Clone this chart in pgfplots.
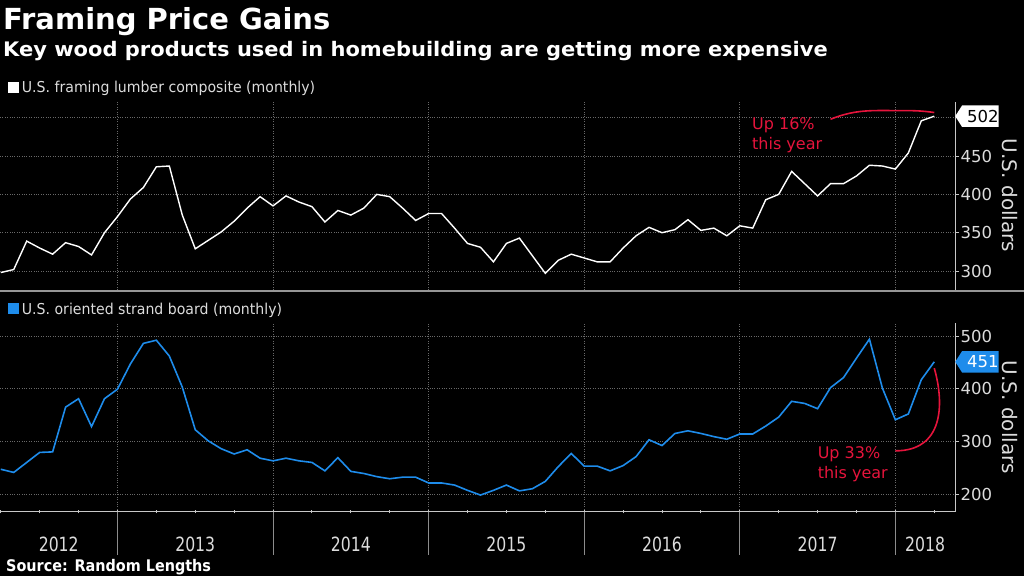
\documentclass[border=0pt]{standalone}
\usepackage{pgfplots}
\usepackage{pgfplotstable}
\pgfplotsset{compat=1.18}
\usepackage{fontspec}
\setmainfont{DejaVu Sans}
\newfontfamily\legfont[FakeStretch=0.94]{DejaVu Sans}
\newfontfamily\yearfont[FakeStretch=0.8]{DejaVu Sans}
\newfontfamily\srcfont[FakeStretch=0.9]{DejaVu Sans}
\newfontfamily\subfont[FakeStretch=1.05]{DejaVu Sans}
\usetikzlibrary{shapes.symbols}
\definecolor{bbblue}{RGB}{30,140,235}
\definecolor{bbred}{RGB}{230,20,60}
\definecolor{gridgray}{RGB}{105,105,105}
\definecolor{axgray}{RGB}{200,200,200}
\definecolor{lbl}{RGB}{220,220,220}

\pgfplotstableread{
m v
3 298
4 302
5 339
6 330
7 322
8 337
9 332
10 321
11 350
12 371
13 394
14 409
15 436
16 437
17 373
18 329
19 340
20 351
21 365
22 382
23 397
24 385
25 398
26 390
27 384
28 364
29 379
30 373
31 382
32 400
33 397
34 382
35 366
36 375
37 375
38 356
39 336
40 331
41 312
42 336
43 343
44 320
45 297
46 314
47 322
48 317
49 312
50 312
51 330
52 346
53 357
54 350
55 354
56 367
57 353
58 356
59 346
60 359
61 356
62 393
63 400
64 430
65 414
66 398
67 414
68 414
69 424
70 438
71 437
72 433
73 454
74 496
75 502
}\lumber

\pgfplotstableread{
m v
3 247
4 241
5 260
6 279
7 280
8 365
9 381
10 328
11 381
12 399
13 447
14 486
15 492
16 462
17 403
18 322
19 301
20 286
21 276
22 284
23 268
24 263
25 268
26 263
27 260
28 244
29 269
30 243
31 239
32 233
33 229
34 232
35 232
36 221
37 221
38 217
39 207
40 198
41 207
42 217
43 206
44 210
45 224
46 252
47 277
48 253
49 253
50 244
51 254
52 271
53 303
54 292
55 315
56 320
57 315
58 309
59 304
60 314
61 314
62 329
63 346
64 376
65 372
66 362
67 402
68 421
69 458
70 494
71 401
72 341
73 352
74 417
75 451
}\osb

\pgfplotsset{bb/.style={
  scale only axis, width=955pt,
  xmin=2.94, xmax=76.6,
  axis y line=right,
  y axis line style={draw=axgray, line width=1pt, -},
  tick align=outside,
  xtick={12,24,36,48,60,72},
  xmajorgrids, ymajorgrids,
  major grid style={draw=gridgray, dotted, line width=0.9pt},
  ytick style={draw=axgray, line width=0.9pt},
  major tick length=4pt,
  minor tick length=3.5pt,
  /pgf/number format/assume math mode=true,
  yticklabel style={font=\fontsize{16.5}{18}\selectfont, text=lbl, inner xsep=1.5pt},
  every axis y label/.style={at={(rel axis cs:1,0.5)}, xshift=55pt, anchor=center, rotate=-90, font=\fontsize{20}{22}\selectfont, text=lbl},
  ylabel={U.S. dollars},
  clip mode=individual,
}}

\begin{document}
\begin{tikzpicture}
\fill[black] (0pt,0pt) rectangle (1024pt,-576pt);

% titles
\node[anchor=base west, inner sep=0pt, text=white, font=\bfseries\fontsize{29}{31}\selectfont] at (3pt,-29.5pt) {Framing Price Gains};
\node[anchor=base west, inner sep=0pt, text=white, font=\subfont\bfseries\fontsize{20}{22}\selectfont] at (3pt,-56pt) {Key wood products used in homebuilding are getting more expensive};

% legends
\node[anchor=base west, inner sep=0pt, text=lbl, font=\legfont\fontsize{15}{17}\selectfont] at (7.3pt,-92.7pt) {\textcolor{white}{\rule{11pt}{11pt}}\hspace{3.4pt}U.S. framing lumber composite (monthly)};
\node[anchor=base west, inner sep=0pt, text=lbl, font=\legfont\fontsize{15}{17}\selectfont] at (7.3pt,-314.3pt) {\textcolor{bbblue}{\rule{11pt}{11pt}}\hspace{3.4pt}U.S. oriented strand board (monthly)};

% top panel
\begin{axis}[bb,
  at={(0pt,-101.7pt)}, anchor=north west,
  height=187.8pt,
  ymin=275.9, ymax=520.9,
  ytick={300,350,400,450,500},
  yticklabels={300,350,400,450,{}},
  axis x line=bottom,
  x axis line style={draw=none},
  xtick style={draw=none},
  xticklabels={},
]
\addplot[white, line width=1.4pt] table[x=m, y=v] {\lumber};
\draw[bbred, line width=1.6pt] (axis cs:67,498) to[out=22,in=180] (axis cs:72.3,509.3) to[out=0,in=172] (axis cs:75,506.8);
\node[anchor=base west, inner sep=0pt, text=bbred, font=\fontsize{16}{20}\selectfont, align=left] at (axis cs:60.94,458) {Up 16\%\\this year};
\node[signal, signal to=west, signal pointer angle=115, fill=white, text=black, inner sep=0pt, minimum height=21.6pt, minimum width=41.5pt, anchor=west, font=\fontsize{16.5}{18}\selectfont] at (axis cs:76.6,502) {\hspace{5pt}502};
\end{axis}

\draw[color={rgb,255:red,150;green,150;blue,150}, line width=2.2pt] (0pt,-291pt) -- (1024pt,-291pt);

% bottom panel
\begin{axis}[bb,
  at={(0pt,-323.3pt)}, anchor=north west,
  height=188.2pt,
  ymin=166.8, ymax=524.1,
  ytick={200,300,400,500},
  axis x line=bottom,
  x axis line style={draw=axgray, line width=1pt, -},
  xtick style={draw=axgray, line width=0.9pt},
  minor xtick={3,6,9,15,18,21,27,30,33,39,42,45,51,54,57,63,66,69,75},
  minor tick style={draw=axgray, line width=0.9pt},
  xticklabels={},
]
\addplot[bbblue, line width=1.6pt] table[x=m, y=v] {\osb};
\draw[bbred, line width=1.6pt] (axis cs:72,282) .. controls (axis cs:75.7,282) and (axis cs:75.8,370) .. (axis cs:75,439);
\node[anchor=base west, inner sep=0pt, text=bbred, font=\fontsize{16}{20}\selectfont, align=left] at (axis cs:66.0,230) {Up 33\%\\this year};
\node[signal, signal to=west, signal pointer angle=115, fill=bbblue, text=white, inner sep=0pt, minimum height=21.6pt, minimum width=41.5pt, anchor=west, font=\fontsize{16.5}{18}\selectfont] at (axis cs:76.6,451) {\hspace{5pt}451};
\pgfplotsinvokeforeach{12,24,36,48,60,72}{
  \draw[color={rgb,255:red,140;green,140;blue,140}, line width=0.9pt] (axis cs:#1,166.8) -- ++(0pt,-43.5pt);
}
\node[anchor=base, inner sep=0pt, text=lbl, font=\yearfont\fontsize{19.6}{21}\selectfont, yshift=-40.2pt] at (axis cs:7.47,166.8) {2012};
\node[anchor=base, inner sep=0pt, text=lbl, font=\yearfont\fontsize{19.6}{21}\selectfont, yshift=-40.2pt] at (axis cs:18,166.8) {2013};
\node[anchor=base, inner sep=0pt, text=lbl, font=\yearfont\fontsize{19.6}{21}\selectfont, yshift=-40.2pt] at (axis cs:30,166.8) {2014};
\node[anchor=base, inner sep=0pt, text=lbl, font=\yearfont\fontsize{19.6}{21}\selectfont, yshift=-40.2pt] at (axis cs:42,166.8) {2015};
\node[anchor=base, inner sep=0pt, text=lbl, font=\yearfont\fontsize{19.6}{21}\selectfont, yshift=-40.2pt] at (axis cs:54,166.8) {2016};
\node[anchor=base, inner sep=0pt, text=lbl, font=\yearfont\fontsize{19.6}{21}\selectfont, yshift=-40.2pt] at (axis cs:66,166.8) {2017};
\node[anchor=base, inner sep=0pt, text=lbl, font=\yearfont\fontsize{19.6}{21}\selectfont, yshift=-40.2pt] at (axis cs:74.3,166.8) {2018};
\end{axis}

\node[anchor=base west, inner sep=0pt, text=white, font=\srcfont\bfseries\fontsize{16}{18}\selectfont] at (6pt,-571.7pt) {Source: Random Lengths};

\pgfresetboundingbox
\path (0pt,0pt) rectangle (1024pt,-576pt);
\end{tikzpicture}
\end{document}
